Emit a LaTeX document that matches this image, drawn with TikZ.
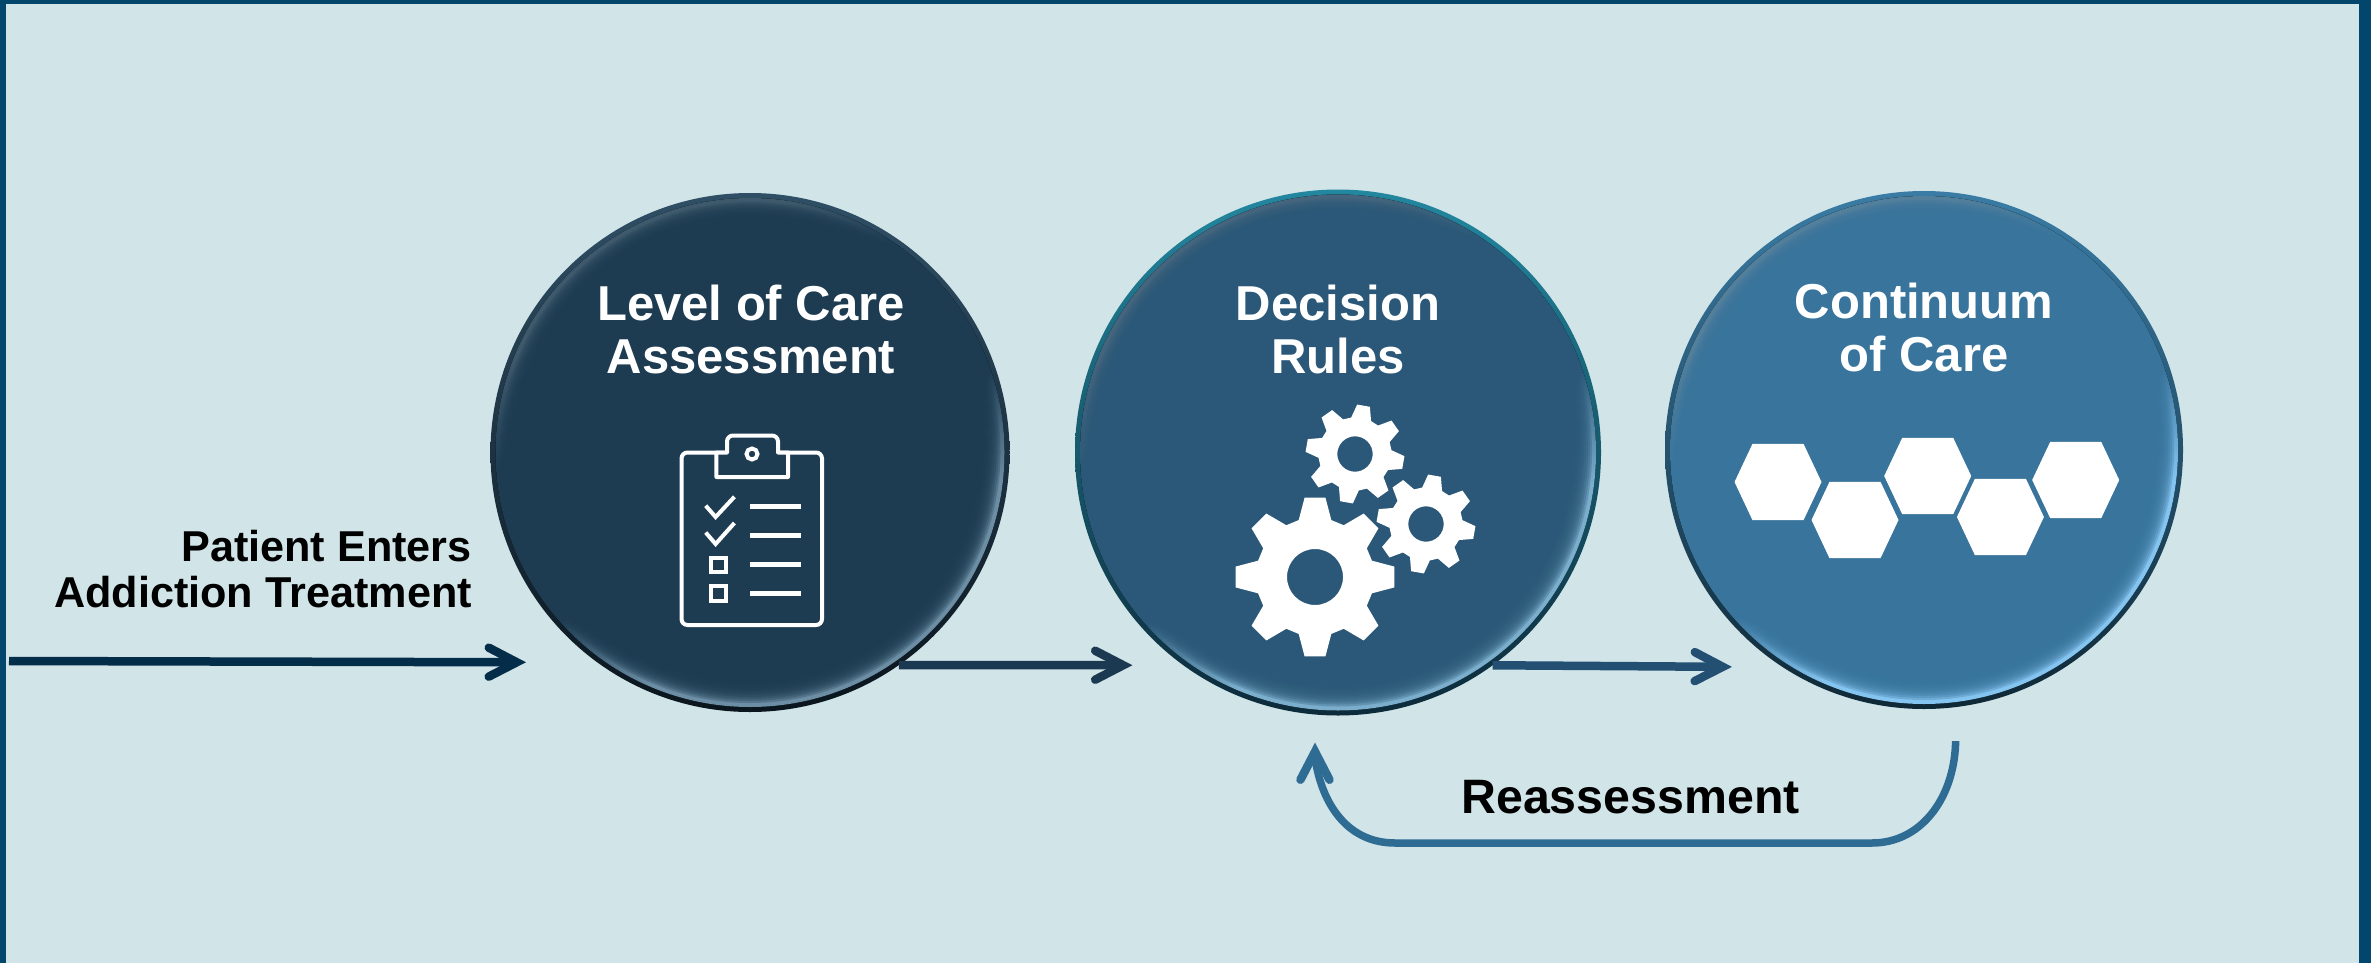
\documentclass[tikz,border=0pt]{standalone}
\usepackage{fontspec}
\setmainfont{Liberation Sans}
\usetikzlibrary{arrows.meta}
\definecolor{pagebg}{HTML}{D1E4E8}
\definecolor{frame}{HTML}{03466C}
\definecolor{arrowA}{HTML}{032D49}
\definecolor{arrowB}{HTML}{1B3A52}
\definecolor{arrowC}{HTML}{234F72}
\definecolor{arrowD}{HTML}{2F6C94}
\definecolor{mainA}{HTML}{1D3C52}
\definecolor{mainB}{HTML}{2B5878}
\definecolor{mainC}{HTML}{38749C}
\definecolor{rimA}{HTML}{2F4F66}
\definecolor{rimB}{HTML}{22879F}
\definecolor{rimC}{HTML}{3A7CA5}
\definecolor{darkA}{HTML}{0A151D}
\definecolor{darkB}{HTML}{0C2A3A}
\definecolor{darkC}{HTML}{0F2836}
\definecolor{hiA}{HTML}{6C8EA5}
\definecolor{hiB}{HTML}{7AAECC}
\definecolor{hiC}{HTML}{84C4F0}
\definecolor{topA}{HTML}{3F596C}
\definecolor{topB}{HTML}{44657D}
\definecolor{topC}{HTML}{527F9B}
\newcommand{\makering}[4]{\pgfdeclareverticalshading{#1}{100bp}{color(0bp)=(#2); color(35bp)=(#2); color(45bp)=(#3); color(61bp)=(#3); color(70bp)=(#4); color(100bp)=(#4)}}
\makering{ringA}{hiA}{mainA}{topA}
\makering{ringB}{hiB}{mainB}{topB}
\makering{ringC}{hiC}{mainC}{topC}
\tikzset{
  beadbase/.style={circle,inner sep=0pt,outer sep=0pt,top color=#1,middle color=#1,shading angle=45},
  beadtitle/.style={text=white,font=\fontsize{49}{53}\selectfont\bfseries,align=center,inner sep=0pt},
  plainlabel/.style={text=black,font=\fontsize{43.2}{46}\selectfont\bfseries,inner sep=0pt},
  flow/.style={line width=8.5pt,-{Straight Barb[length=28pt,width=29pt,line width=8.5pt,line cap=round,line join=miter]}},
  iconline/.style={draw=white,line width=4pt},
}
% name, x, y, radius, rim, dark, ring shading, main
\newcommand{\bead}[8]{%
  \node[beadbase=#5,bottom color=#6,minimum size=#4*2pt] (#1) at (#2,#3) {};
  \fill[shading=#7,shading angle=30] (#2,#3) circle[radius=#4-5];
  \foreach \k in {0,...,9}{\fill[#8,opacity=.3] (#2,#3) circle[radius=#4-9-\k*2];}
  \fill[#8] (#2,#3) circle[radius=#4-29];
}
% gear: x, y, outer radius, rotation, hole radius
\newcommand{\gear}[5]{%
  \begin{scope}[shift={(#1,#2)}]
  \fill[white,even odd rule] (#4-16:#3*.74)
    \foreach \t in {0,45,...,315}{ -- (#4+\t-16:#3*.74) -- (#4+\t-7.5:#3) -- (#4+\t+7.5:#3) -- (#4+\t+16:#3*.74)} -- cycle
    (0,0) circle[radius=#5];
  \end{scope}}
\newcommand{\hexa}[2]{\fill[white] (#1-43.5,#2) -- (#1-25.5,#2-38.2) -- (#1+25.5,#2-38.2) -- (#1+43.5,#2) -- (#1+25.5,#2+38.2) -- (#1-25.5,#2+38.2) -- cycle;}
\begin{document}
\begin{tikzpicture}[x=1pt,y=-1pt]
\useasboundingbox (0,0) rectangle (2371,963);
\fill[pagebg] (0,0) rectangle (2371,963);
\fill[frame] (0,0) rectangle (2371,4);
\fill[frame] (0,0) rectangle (6,963);
\fill[frame] (2359,0) rectangle (2371,963);

\bead{assess}{750}{452.5}{259.5}{rimA}{darkA}{ringA}{mainA}
\bead{rules}{1338}{452.5}{263}{rimB}{darkB}{ringB}{mainB}
\bead{care}{1924}{450}{259}{rimC}{darkC}{ringC}{mainC}

\node[beadtitle] (assesstext) at (751,329) {Level of Care\\Assessment};
\node[beadtitle] (rulestext) at (1338,329) {Decision\\Rules};
\node[beadtitle] (caretext) at (1924,327) {Continuum\\of Care};

\node[plainlabel,align=right,anchor=east] (enters) at (472,569) {Patient Enters\\Addiction Treatment};
\node[plainlabel,font=\fontsize{48.3}{52}\selectfont\bfseries,anchor=base] (reassess) at (1630.5,813) {Reassessment};

% connectors
\coordinate (entry) at (9,661);
\draw[flow,draw=arrowA,shorten >=71.5pt] (entry) -- (assess.-126.5);
\draw[flow,draw=arrowB,shorten >=51pt] (assess.-55) -- (rules.-126.1);
\draw[flow,draw=arrowC,shorten >=51pt] (rules.-54.6) -- (care.-123.5);
\draw[flow,draw=arrowD,line width=7.5pt,shorten <=34pt,shorten >=28pt]
  (care.-83) -- (1955.5,745) .. controls (1953,800) and (1920,843) .. (1872,843)
  -- (1395,843) .. controls (1348,843) and (1322,805) .. (1315,758) -- (rules.-95);

% clipboard icon
\draw[iconline,rounded corners=6pt] (681.5,452.5) rectangle (822,625);
\filldraw[draw=white,fill=mainA,line width=4pt,line join=round]
  (716.4,477) -- (716.4,452.5) -- (727,452.5) [rounded corners=6pt] -- (727,435.5) -- (778,435.5) [sharp corners] -- (778,452.5) -- (788,452.5) -- (788,477) -- cycle;
\draw[iconline] (752,454) circle[radius=5.5];
\draw[iconline] (705.7,505.7) -- (715.6,517) -- (734.4,496.8);
\draw[iconline] (705.7,532.5) -- (715.6,544) -- (734.4,523);
\foreach \ly in {506.4,535,564.3,593.6}{\draw[draw=white,line width=5pt] (750,\ly) -- (800.6,\ly);}
\draw[iconline] (710.5,557.5) rectangle (725.5,572);
\draw[iconline] (710.5,586) rectangle (725.5,600.5);

% gears
\gear{1315}{577}{80}{0}{28}
\gear{1355}{454}{49.5}{10}{17.7}
\gear{1426}{524}{49.5}{10}{17.7}

% hexagons
\hexa{1778}{482}
\hexa{1855}{520}
\hexa{1927.7}{476}
\hexa{2000.4}{517}
\hexa{2075.7}{480}
\end{tikzpicture}
\end{document}
